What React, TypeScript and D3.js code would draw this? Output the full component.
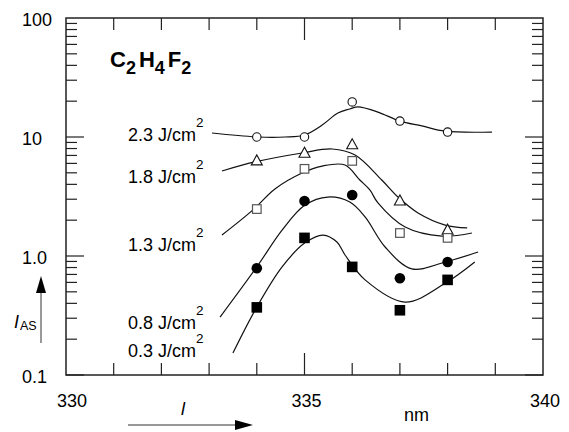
import React, { useEffect } from 'react'
import * as d3 from 'd3'

// measured points (nm, I_AS)
const wavelengths = [334, 335, 336, 337, 338]
const openCircle23 = [10.0, 10.0, 19.7, 13.6, 11.0]
const openTriangle18 = [6.3, 7.3, 8.6, 2.9, 1.65]
const openSquare13 = [2.48, 5.4, 6.3, 1.56, 1.42]
const filledCircle08 = [0.79, 2.9, 3.26, 0.65, 0.89]
const filledSquare03 = [0.37, 1.42, 0.81, 0.35, 0.63]

// fitted curves: [nm, I_AS]
const curve23: [number, number][] = [
  [333.06, 10.8], [334.03, 10.0], [334.59, 10.0], [335.0, 10.4], [335.37, 12.6],
  [335.7, 15.9], [335.95, 17.2], [336.12, 17.9], [336.54, 16.2], [337.0, 13.6],
  [337.46, 12.4], [337.95, 11.2], [338.93, 11.0],
]
const curve18: [number, number][] = [
  [333.27, 5.18], [333.96, 6.17], [334.95, 7.34], [335.58, 7.93], [336.06, 7.06],
  [336.62, 4.35], [336.96, 3.13], [337.38, 2.3], [337.95, 1.82], [338.41, 1.72],
]
const curve13: [number, number][] = [
  [333.27, 1.5], [333.92, 2.44], [334.38, 3.66], [334.95, 4.98], [335.37, 5.7],
  [335.85, 5.82], [336.16, 4.35], [336.37, 3.59], [336.54, 2.79], [337.11, 1.75],
  [337.88, 1.47], [338.51, 1.56],
]
const curve08: [number, number][] = [
  [333.23, 0.307], [334.0, 0.81], [334.53, 1.65], [335.01, 2.68], [335.49, 3.13],
  [335.95, 2.84], [336.27, 2.13], [336.69, 1.19], [337.25, 0.78], [337.95, 0.89],
  [338.64, 1.08],
]
const curve03: [number, number][] = [
  [333.5, 0.153], [334.0, 0.372], [334.53, 0.81], [335.01, 1.29], [335.39, 1.5],
  [335.68, 1.31], [335.85, 1.02], [336.27, 0.63], [337.11, 0.41], [337.95, 0.59],
  [338.57, 0.89],
]

const fluenceLabels = ['2.3', '1.8', '1.3', '0.8', '0.3']
const yTickLabels = ['100', '10', '1.0', '0.1']
const yTickValues = [100, 10, 1, 0.1]
const xTickLabels = ['330', '335', '340']
const xTickValues = [330, 335, 340]

const font = '"Liberation Sans", Arial, Helvetica, sans-serif'

const App = () => {
  useEffect(() => {
    document.body.style.margin = '0'
  }, [])

  const W = 569, H = 432
  const margin = { left: 66, right: 26, top: 18, bottom: 57 }
  const x = d3.scaleLinear().domain([330, 340]).range([margin.left, W - margin.right])
  const y = d3.scaleLog().domain([0.1, 100]).range([H - margin.bottom, margin.top])
  const x0 = x(330), x1 = x(340), y0 = y(0.1), y1 = y(100)

  const line = d3.line<[number, number]>()
    .x(d => x(d[0]))
    .y(d => y(d[1]))
    .curve(d3.curveCatmullRom.alpha(0.5))

  // minor ticks on the log axis
  const yTicks: { v: number, major: boolean }[] = []
  for (const dec of [0.1, 1, 10]) {
    for (let k = 1; k <= 9; k++) yTicks.push({ v: dec * k, major: k === 1 })
  }
  const xTicks = d3.range(331, 340)

  const stroke = '#222'
  const labelY = [141, 183, 251, 329, 357]
  const fs = 18

  return (
    <svg width={W} height={H} style={{ display: 'block', background: '#fff' }} fontFamily={font}>
      {/* frame */}
      <rect x={x0} y={y1} width={x1 - x0} height={y0 - y1} fill="none" stroke={stroke} strokeWidth={1.5} />

      {/* y ticks left and right */}
      {yTicks.map((t, i) => {
        const len = t.major ? 18 : 11
        const yy = y(t.v)
        return (
          <g key={'yt' + i}>
            <line x1={x0} x2={x0 + len} y1={yy} y2={yy} stroke={stroke} strokeWidth={1.2} />
            <line x1={x1} x2={x1 - len} y1={yy} y2={yy} stroke={stroke} strokeWidth={1.2} />
          </g>
        )
      })}
      {/* x ticks bottom and top */}
      {xTicks.map(v => {
        const len = v === 335 ? 22 : 12
        const xx = x(v)
        return (
          <g key={'xt' + v}>
            <line x1={xx} x2={xx} y1={y0} y2={y0 - len} stroke={stroke} strokeWidth={1.2} />
            <line x1={xx} x2={xx} y1={y1} y2={y1 + len} stroke={stroke} strokeWidth={1.2} />
          </g>
        )
      })}

      {/* tick labels */}
      {yTickValues.map((v, i) => (
        <text key={'yl' + i} x={22} y={y(v) + 8} fontSize={fs}>{yTickLabels[i]}</text>
      ))}
      {xTickValues.map((v, i) => (
        <text key={'xl' + i} x={x(v) + (i === 0 ? 6 : 2)} y={407} fontSize={fs} textAnchor="middle">{xTickLabels[i]}</text>
      ))}
      <text x={404} y={421} fontSize={fs}>nm</text>

      {/* axis names and arrows */}
      <text x={181} y={415} fontSize={fs} fontStyle="italic">l</text>
      <line x1={128} x2={238} y1={425} y2={425} stroke="#333" strokeWidth={1.2} />
      <polygon points="253,425 235,420 235,430" fill="#000" />

      <text x={14} y={328} fontSize={fs} fontStyle="italic">I</text>
      <text x={20} y={330} fontSize={12.5}>AS</text>
      <line x1={41} x2={41} y1={343} y2={290} stroke="#777" strokeWidth={1.5} />
      <polygon points="41,276 36,293 46,293" fill="#000" />

      {/* title */}
      <text x={110} y={67} fontSize={22} fontWeight="bold">
        C<tspan fontSize={18} dy={7}>2</tspan>
        <tspan dy={-7} dx={3}>H</tspan><tspan fontSize={18} dy={7}>4</tspan>
        <tspan dy={-7} dx={3}>F</tspan><tspan fontSize={18} dy={7}>2</tspan>
      </text>

      {/* fluence labels */}
      {fluenceLabels.map((lab, i) => (
        <g key={'fl' + i}>
          <text x={196} y={labelY[i]} fontSize={fs} textAnchor="end">{lab + ' J/cm'}</text>
          <text x={196} y={labelY[i] - 14} fontSize={13.5}>2</text>
        </g>
      ))}

      {/* curves */}
      {[curve23, curve18, curve13, curve08, curve03].map((c, i) => (
        <path key={'c' + i} d={line(c) || ''} fill="none" stroke="#111" strokeWidth={1.2} />
      ))}

      {/* markers */}
      {wavelengths.map((w, i) => (
        <circle key={'oc' + i} cx={x(w)} cy={y(openCircle23[i])} r={4.2} fill="#fff" stroke="#111" strokeWidth={1.1} />
      ))}
      {wavelengths.map((w, i) => {
        const cx = x(w), cy = y(openTriangle18[i])
        return (
          <polygon key={'ot' + i} points={`${cx},${cy - 6} ${cx - 5.5},${cy + 4} ${cx + 5.5},${cy + 4}`}
            fill="#fff" stroke="#111" strokeWidth={1.1} />
        )
      })}
      {wavelengths.map((w, i) => (
        <rect key={'os' + i} x={x(w) - 4.3} y={y(openSquare13[i]) - 4.3} width={8.6} height={8.6}
          fill="#fff" stroke="#555" strokeWidth={1.2} />
      ))}
      {wavelengths.map((w, i) => (
        <circle key={'fc' + i} cx={x(w)} cy={y(filledCircle08[i])} r={5.3} fill="#000" />
      ))}
      {wavelengths.map((w, i) => (
        <rect key={'fs' + i} x={x(w) - 5.3} y={y(filledSquare03[i]) - 5.3} width={10.6} height={10.6} fill="#000" />
      ))}
    </svg>
  )
}

export default App
